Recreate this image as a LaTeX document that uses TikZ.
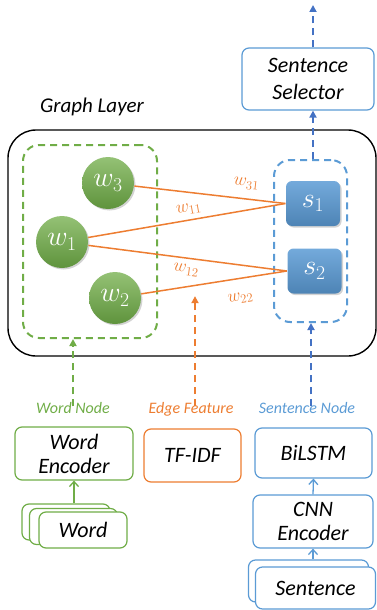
\RequirePackage{fix-cm}
\documentclass[tikz,border=0pt]{standalone}
\usepackage{fontspec}
\setmainfont{Carlito}
\usepackage{amsmath}
\usetikzlibrary{positioning,fit,shadows,arrows.meta}
\definecolor{wgreen}{HTML}{70AD47}
\definecolor{eorange}{HTML}{ED7D31}
\definecolor{sblue}{HTML}{5B9BD5}
\definecolor{dblue}{HTML}{4472C4}
\newcommand{\boxfont}{\itshape\fontsize{22}{27}\selectfont}
\newcommand{\tagfont}{\itshape\fontsize{16}{19}\selectfont}

\begin{document}
\begin{tikzpicture}[x=1pt, y=-1pt, line width=1.2pt,
		Box/.style={
			draw,
			rounded corners=7pt,
			align=center,
			font=\boxfont,
			fill=white,
			inner sep=1pt
		},
		Wnode/.style={
			circle,
			minimum size=52pt,
			inner sep=0pt,
			top color=wgreen!75!white,
			bottom color=wgreen!85!black,
			draw=none,
			text=white,
			font=\fontsize{28}{28}\selectfont,
			drop shadow={opacity=0.35, shadow xshift=1.5pt, shadow yshift=-1.5pt}
		},
		Snode/.style={
			rectangle,
			rounded corners=6pt,
			minimum width=54pt,
			minimum height=45pt,
			inner sep=0pt,
			top color=sblue!85!white,
			bottom color=sblue!85!black,
			draw=none,
			text=white,
			font=\fontsize{28}{28}\selectfont,
			drop shadow={opacity=0.35, shadow xshift=1.5pt, shadow yshift=-1.5pt}
		},
		Group/.style={draw, dashed, line width=2pt, dash pattern=on 7pt off 5pt, rounded corners=16pt, inner sep=0pt},
		Feed/.style={-{Triangle[length=7pt,width=7pt]}, line width=2pt, dash pattern=on 7pt off 5pt},
		Up/.style={-{Straight Barb[length=5pt,width=9pt]}, line width=1.3pt},
		Tag/.style={font=\tagfont},
		Weight/.style={font=\fontsize{18}{18}\selectfont, text=eorange, sloped, inner sep=1pt}
	]
	\useasboundingbox (0,0) rectangle (377,610);

	% graph layer
	\node[draw, rounded corners=28pt, line width=1.4pt, minimum width=368pt, minimum height=226pt] (layer) at (192,243) {};
	\node[font=\itshape\fontsize{21}{21}\selectfont] (layername) at (92,107) {Graph Layer};

	\node[Group, draw=wgreen, minimum width=134pt, minimum height=193pt] (wgroup) at (90,241.5) {};
	\node[Group, draw=sblue, minimum width=73pt, minimum height=162pt] (sgroup) at (310.5,241) {};

	\node[Wnode] (w3) at (108,183) {$w_3$};
	\node[Wnode] (w1) at (62,242) {$w_1$};
	\node[Wnode] (w2) at (115,298) {$w_2$};
	\node[Snode] (s1) at (313,203.5) {$s_1$};
	\node[Snode] (s2) at (314.5,271) {$s_2$};

	\draw[eorange, line width=1.5pt] (w3) -- node[Weight, pos=0.73, above=8pt] {$w_{31}$} (s1.west);
	\draw[eorange, line width=1.5pt] (w1) -- node[Weight, pos=0.52, above=4pt] {$w_{11}$} (s1.west);
	\draw[eorange, line width=1.5pt] (w1) -- node[Weight, pos=0.5, below=5pt] {$w_{12}$} (s2.west);
	\draw[eorange, line width=1.5pt] (w2) -- node[Weight, pos=0.66, below=13pt] {$w_{22}$} (s2.west);

	% selector
	\node[Box, draw=sblue, minimum width=132pt, minimum height=62pt] (selector) at (308,79) {Sentence\\Selector};
	\coordinate (out) at (313,5);
	\draw[Feed, dblue] (sgroup.north -| selector.south) ++(5,0) -- ([xshift=5pt]selector.south);
	\draw[Feed, dblue] ([xshift=5pt]selector.north) -- (out);

	% inputs
	\node[Tag, text=wgreen] (wordtag) at (73,408) {Word Node};
	\node[Tag, text=eorange] (edgetag) at (191,409) {Edge Feature};
	\node[Tag, text=sblue] (senttag) at (307,408) {Sentence Node};

	\draw[Feed, wgreen] ([yshift=-8pt]wordtag.north) -- (wordtag.north |- wgroup.south);
	\draw[Feed, eorange] ([xshift=4pt, yshift=-8pt]edgetag.north) -- ++(0,-110);
	\draw[Feed, dblue] ([xshift=4pt, yshift=-8pt]senttag.north) -- ([xshift=4pt]senttag.north |- sgroup.south);

	\node[Box, draw=wgreen, minimum width=118pt, minimum height=53pt] (wordenc) at (74,453.5) {Word\\[-3pt]Encoder};
	\node[Box, draw=eorange, minimum width=97pt, minimum height=53pt] (tfidf) at (192.5,455.5) {TF-IDF};
	\node[Box, draw=sblue, minimum width=117pt, minimum height=50pt] (bilstm) at (313.5,453) {BiLSTM};
	\node[Box, draw=sblue, minimum width=120pt, minimum height=53pt] (cnn) at (313,521.5) {CNN\\[-3pt]Encoder};

	% stacked inputs
	\node[Box, draw=wgreen, minimum width=88pt, minimum height=36pt] (worda) at (66,522) {};
	\node[Box, draw=wgreen, minimum width=88pt, minimum height=36pt] (wordb) at (73.5,526.5) {};
	\node[Box, draw=wgreen, minimum width=88pt, minimum height=36pt] (wordc) at (83,530) {Word};
	\node[Box, draw=sblue, minimum width=120pt, minimum height=42pt] (senta) at (308.5,581) {};
	\node[Box, draw=sblue, minimum width=120pt, minimum height=42pt] (sentb) at (315.5,588) {Sentence};

	\draw[Up, wgreen] (wordenc.south |- worda.north) -- (wordenc.south);
	\draw[Up, sblue] (cnn.north) -- (bilstm.south);
	\draw[Up, sblue] (cnn.south |- senta.north) -- (cnn.south);
\end{tikzpicture}
\end{document}
